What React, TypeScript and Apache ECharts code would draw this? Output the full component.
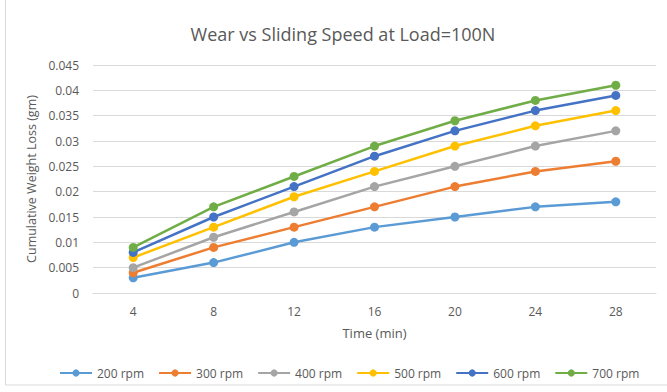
import React, { useEffect, useRef } from "react";
import * as echarts from "echarts";

const categories = ["4", "8", "12", "16", "20", "24", "28"];
const seriesNames = ["200 rpm", "300 rpm", "400 rpm", "500 rpm", "600 rpm", "700 rpm"];
const s200 = [0.003, 0.006, 0.01, 0.013, 0.015, 0.017, 0.018];
const s300 = [0.004, 0.009, 0.013, 0.017, 0.021, 0.024, 0.026];
const s400 = [0.005, 0.011, 0.016, 0.021, 0.025, 0.029, 0.032];
const s500 = [0.007, 0.013, 0.019, 0.024, 0.029, 0.033, 0.036];
const s600 = [0.008, 0.015, 0.021, 0.027, 0.032, 0.036, 0.039];
const s700 = [0.009, 0.017, 0.023, 0.029, 0.034, 0.038, 0.041];
const colors = ["#5B9BD5", "#ED7D31", "#A5A5A5", "#FFC000", "#4472C4", "#70AD47"];

export default function App() {
  const ref = useRef<HTMLDivElement>(null);
  useEffect(() => {
    document.body.style.margin = "0";
    const chart = echarts.init(ref.current!, null, { renderer: "svg" });
    const data = [s200, s300, s400, s500, s600, s700];
    chart.setOption({
      animation: false,
      backgroundColor: "#ffffff",
      title: {
        text: "Wear vs Sliding Speed at Load=100N",
        left: 338,
        textAlign: "center",
        top: 20,
        textStyle: { fontFamily: "Open Sans", fontSize: 18, fontWeight: "normal", color: "#595959" },
      },
      graphic: [
        {
          type: "rect",
          shape: { x: 5.5, y: -2, width: 700, height: 387 },
          style: { fill: "none", stroke: "#d9d9d9", lineWidth: 1 },
          silent: true,
        },
      ],
      grid: { left: 93, right: 11, top: 65, bottom: 99, containLabel: false },
      legend: {
        bottom: 8,
        left: 54,
        itemWidth: 32,
        itemHeight: 9,
        itemGap: 14,
        textStyle: { fontFamily: "Open Sans", fontSize: 12, color: "#595959" },
        data: seriesNames,
      },
      xAxis: {
        type: "category",
        data: categories,
        name: "Time (min)",
        nameLocation: "middle",
        nameGap: 33,
        nameTextStyle: { fontFamily: "Open Sans", fontSize: 13, color: "#595959" },
        axisLine: { lineStyle: { color: "#d9d9d9" } },
        axisTick: { show: false },
        axisLabel: { fontFamily: "Open Sans", fontSize: 12, color: "#595959", margin: 12 },
      },
      yAxis: {
        type: "value",
        min: 0,
        max: 0.045,
        interval: 0.005,
        name: "Cumulative Weight Loss (gm)",
        nameLocation: "middle",
        nameGap: 54,
        nameTextStyle: { fontFamily: "Open Sans", fontSize: 12.5, color: "#595959" },
        axisLine: { show: false },
        axisTick: { show: false },
        splitLine: { lineStyle: { color: "#d9d9d9" } },
        axisLabel: {
          fontFamily: "Open Sans",
          fontSize: 12,
          color: "#595959",
          margin: 14,
          formatter: (v: number) => String(parseFloat(v.toFixed(3))),
        },
      },
      series: seriesNames.map((name, i) => ({
        name,
        type: "line",
        data: data[i],
        color: colors[i],
        symbol: "circle",
        symbolSize: 9,
        lineStyle: { width: 2.5, color: colors[i] },
        itemStyle: { color: colors[i] },
      })),
    });
    return () => chart.dispose();
  }, []);
  return <div ref={ref} style={{ width: 667, height: 392 }} />;
}
